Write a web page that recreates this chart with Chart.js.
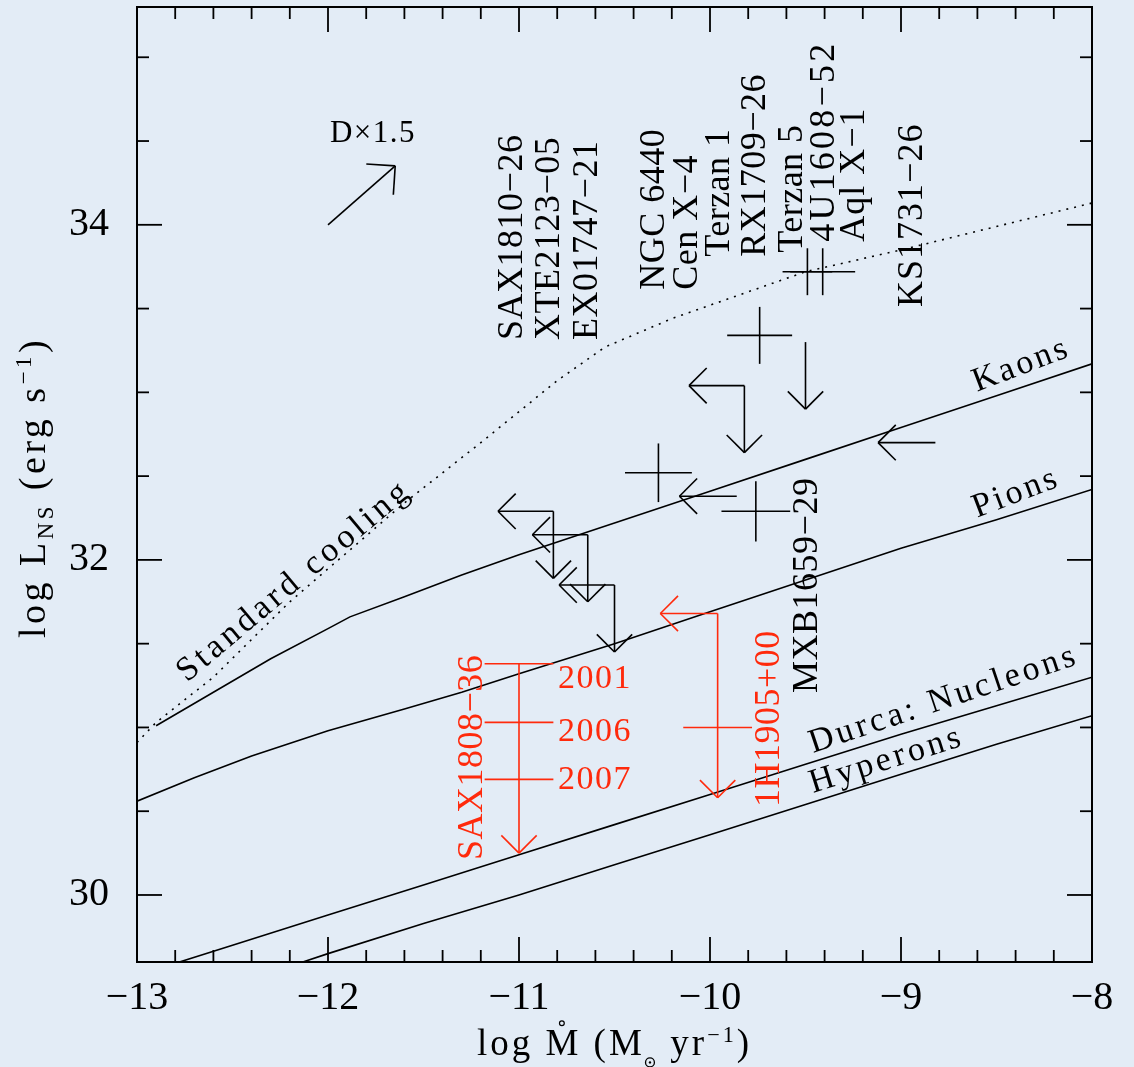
<!DOCTYPE html>
<html>
<head>
<meta charset="utf-8">
<script src="https://cdn.jsdelivr.net/npm/chart.js@4.4.1/dist/chart.umd.min.js"></script>
<style>
  html, body { margin: 0; padding: 0; background: #e3ecf6; }
  #wrap { width: 1134px; height: 1067px; position: relative; }
</style>
</head>
<body>
<div id="wrap"><canvas id="c"></canvas></div>
<script>
const FONT = '"Liberation Serif", "Times New Roman", serif';
const INK = '#000000';
const RED = '#ff2a0c';

// Cooling curves: log Mdot grid and log L for each process
const kaonsMdot = [-12.9, -12.6, -12.3, -12.0, -11.885, -11.6, -11.3, -11.0, -10.5, -10.0, -9.5, -9.0, -8.5, -8.0];
const kaonsL    = [31.01, 31.21, 31.41, 31.59, 31.66, 31.78, 31.91, 32.03, 32.22, 32.41, 32.60, 32.79, 32.98, 33.17];
const pionsMdot = [-13.0, -12.7, -12.4, -12.0, -11.6, -11.3, -11.0, -10.5, -10.0, -9.5, -9.0, -8.5, -8.0];
const pionsL    = [30.56, 30.70, 30.83, 30.98, 31.11, 31.21, 31.32, 31.50, 31.69, 31.88, 32.07, 32.24, 32.42];
const nucleonsMdot = [-13.0, -12.5, -12.0, -11.5, -11.0, -10.5, -10.0, -9.5, -9.0, -8.5, -8.0];
const nucleonsL    = [29.52, 29.70, 29.88, 30.06, 30.24, 30.42, 30.60, 30.78, 30.96, 31.13, 31.30];
const hyperonsMdot = [-12.5, -12.0, -11.5, -11.0, -10.5, -10.0, -9.5, -9.0, -8.5, -8.0];
const hyperonsL    = [29.46, 29.65, 29.83, 30.00, 30.18, 30.36, 30.54, 30.72, 30.90, 31.07];
const standardMdot = [-13.0, -12.9, -12.6, -12.2, -11.6, -11.2, -10.8, -10.55, -10.2, -9.5, -9.0, -8.0];
const standardL    = [30.91, 31.03, 31.30, 31.75, 32.34, 32.70, 33.07, 33.27, 33.44, 33.72, 33.85, 34.13];

// Quiescent sources with measured luminosity: log Mdot, log L and half-ranges
const detMdot    = [-9.74, -10.27, -9.76, -9.49, -9.41];
const detL       = [33.34, 32.52, 32.29, 33.72, 33.72];
const detMdotErr = [0.17, 0.175, 0.18, 0.13, 0.17];
const detLErr    = [0.17, 0.175, 0.18, 0.14, 0.14];

// Upper limits on L only
const limLMdot = [-9.50];
const limLL    = [33.30];
// Upper limits on Mdot only
const limMMdot = [-9.86, -8.82];
const limML    = [32.38, 32.70];
// Upper limits on both
const limBothMdot = [-9.82, -10.82, -10.64, -10.50];
const limBothL    = [33.04, 32.29, 32.15, 31.85];

// SAX J1808.4-3658 epochs
const saxYears   = ['2001', '2006', '2007'];
const saxMdot    = -11.0;
const saxL       = [31.38, 31.03, 30.69];
const saxMdotErr = 0.18;
const saxLLimit  = 30.25;

// 1H 1905+000
const h1905Mdot   = -9.96;
const h1905L      = 31.68;
const h1905LLimit = 30.58;
const h1905BarL   = 31.00;
const h1905BarErr = 0.18;

// Distance-scaling vector (D x 1.5 shifts both quantities by log 2.25)
const distFrom = [-12.0, 34.0];
const distShift = 0.352;

// Axis tick values
const xMajorTicks = [-13, -12, -11, -10, -9, -8];
const yMajorTicks = [30, 32, 34];

// Source names (vertical text)
const sourceNames = ['SAX1810\u221226', 'XTE2123\u221205', 'EX01747\u221221', 'NGC 6440', 'Cen X\u22124',
  'Terzan 1', 'RX1709\u221226', 'Terzan 5', '4U1608\u221252', 'Aql X\u22121', 'KS1731\u221226', 'MXB1659\u221229'];
const redNames = ['SAX1808\u221236', '1H1905+00'];

// Label anchors (column centre x, bottom of text y) in axis units, plus letter spacing
const sourceAnchors = [[-11.047, 33.313], [-10.853, 33.313], [-10.654, 33.313], [-10.304, 33.612], [-10.131, 33.612],
  [-9.963, 33.809], [-9.775, 33.809], [-9.581, 33.833], [-9.414, 33.899], [-9.257, 33.899], [-8.953, 33.51], [-9.503, 31.206]];
const sourceSpacing = [0.5, 0.5, 0.5, 0.5, 0.5, 0.5, 0.5, 0.5, 3.2, 1, 1, 0.5];
const redAnchors = [[-11.257, 30.209], [-9.702, 30.525]];
const yearAnchors = [[-10.796, 31.236], [-10.796, 30.919], [-10.796, 30.633]];

// Curve labels: text, start of baseline, angle in degrees
const curveLabels = [
  { text: 'Kaons', at: [-8.602, 33.003], angle: -21, spacing: 3 },
  { text: 'Pions', at: [-8.602, 32.251], angle: -21, spacing: 3 },
  { text: 'Durca: Nucleons', at: [-9.461, 30.848], angle: -18.5, spacing: 3.5 },
  { text: 'Hyperons', at: [-9.461, 30.609], angle: -17.5, spacing: 3.5 },
  { text: 'Standard cooling', at: [-12.738, 31.266], angle: -40, spacing: 4 }
];

const pts = (xs, ys) => xs.map((x, i) => ({ x, y: ys[i] }));
const curve = (label, xs, ys, dash) => ({
  label, data: pts(xs, ys), showLine: true, borderColor: INK, borderWidth: 1.6,
  borderDash: dash || [], pointRadius: 0, tension: 0, fill: false
});

const minus = v => (v < 0 ? '\u2212' + Math.abs(v) : String(v));

function drawText(ctx, str, x, y, o) {
  ctx.save();
  ctx.translate(x, y);
  ctx.rotate((o.angle || 0) * Math.PI / 180);
  ctx.font = `${o.size}px ${FONT}`;
  ctx.letterSpacing = (o.spacing || 0) + 'px';
  ctx.fillStyle = o.color || INK;
  ctx.textAlign = o.align || 'left';
  ctx.textBaseline = 'alphabetic';
  ctx.fillText(str, 0, o.dy || 0);
  ctx.restore();
}

function line(ctx, x0, y0, x1, y1) {
  ctx.beginPath(); ctx.moveTo(x0, y0); ctx.lineTo(x1, y1); ctx.stroke();
}

function arrow(ctx, x0, y0, x1, y1, head) {
  line(ctx, x0, y0, x1, y1);
  const a = Math.atan2(y1 - y0, x1 - x0);
  for (const s of [-1, 1]) {
    const b = a + Math.PI + s * Math.PI / 4;
    line(ctx, x1, y1, x1 + head * Math.cos(b), y1 + head * Math.sin(b));
  }
}

// Rich text: segments with optional sub/superscript, drawn along +x of current transform
function richText(ctx, segs, size, cx, cy, angle, sp) {
  ctx.save();
  ctx.translate(cx, cy);
  ctx.rotate(angle * Math.PI / 180);
  ctx.fillStyle = INK;
  ctx.strokeStyle = INK;
  ctx.textBaseline = 'alphabetic';
  ctx.textAlign = 'left';
  const widths = segs.map(s => {
    const fs = s.small ? size * 0.6 : size;
    ctx.font = `${fs}px ${FONT}`;
    ctx.letterSpacing = sp + 'px';
    return s.sun ? size * 0.36 : ctx.measureText(s.t).width;
  });
  let x = -widths.reduce((a, b) => a + b, 0) / 2;
  segs.forEach((s, i) => {
    const fs = s.small ? size * 0.6 : size;
    ctx.font = `${fs}px ${FONT}`;
    ctx.letterSpacing = sp + 'px';
    const dy = s.sub ? size * 0.22 : s.sup ? -size * 0.36 : 0;
    if (s.sun) {
      ctx.lineWidth = 1.3;
      ctx.beginPath(); ctx.arc(x + size * 0.14, size * 0.2, size * 0.12, 0, 2 * Math.PI); ctx.stroke();
      ctx.beginPath(); ctx.arc(x + size * 0.14, size * 0.2, 1.2, 0, 2 * Math.PI); ctx.fill();
    } else {
      ctx.fillText(s.t, x, dy);
    }
    if (s.dot) {
      ctx.lineWidth = 1.2;
      const mw = ctx.measureText('M').width - sp;
      ctx.beginPath(); ctx.arc(x + mw / 2, -size * 0.86, 2.4, 0, 2 * Math.PI); ctx.stroke();
    }
    x += widths[i];
  });
  ctx.restore();
}

const decor = {
  id: 'decor',
  beforeDraw(chart) {
    const ctx = chart.ctx;
    ctx.save();
    ctx.fillStyle = '#e3ecf6';
    ctx.fillRect(0, 0, chart.width, chart.height);
    ctx.restore();
  },
  afterDatasetsDraw(chart) {
    const ctx = chart.ctx;
    const xs = chart.scales.x, ys = chart.scales.y;
    const X = v => xs.getPixelForValue(v), Y = v => ys.getPixelForValue(v);
    const area = chart.chartArea;
    const HEAD = 25;
    ctx.save();
    ctx.lineCap = 'butt';
    ctx.lineWidth = 1.6;
    ctx.strokeStyle = INK;

    // detections: crosses
    detMdot.forEach((m, i) => {
      line(ctx, X(m - detMdotErr[i]), Y(detL[i]), X(m + detMdotErr[i]), Y(detL[i]));
      line(ctx, X(m), Y(detL[i] - detLErr[i]), X(m), Y(detL[i] + detLErr[i]));
    });
    // L upper limits
    limLMdot.forEach((m, i) => arrow(ctx, X(m), Y(limLL[i]), X(m), Y(limLL[i] - 0.4), HEAD));
    // Mdot upper limits
    limMMdot.forEach((m, i) => arrow(ctx, X(m), Y(limML[i]), X(m - 0.3), Y(limML[i]), HEAD));
    // both
    limBothMdot.forEach((m, i) => {
      arrow(ctx, X(m), Y(limBothL[i]), X(m - 0.29), Y(limBothL[i]), HEAD);
      arrow(ctx, X(m), Y(limBothL[i]), X(m), Y(limBothL[i] - 0.4), HEAD);
    });
    // distance vector
    arrow(ctx, X(distFrom[0]), Y(distFrom[1]), X(distFrom[0] + distShift), Y(distFrom[1] + distShift), 29);

    // red sources
    ctx.strokeStyle = RED;
    saxL.forEach(l => line(ctx, X(saxMdot - saxMdotErr), Y(l), X(saxMdot + saxMdotErr), Y(l)));
    arrow(ctx, X(saxMdot), Y(saxL[0]), X(saxMdot), Y(saxLLimit), HEAD);
    arrow(ctx, X(h1905Mdot), Y(h1905L), X(h1905Mdot - 0.3), Y(h1905L), HEAD);
    arrow(ctx, X(h1905Mdot), Y(h1905L), X(h1905Mdot), Y(h1905LLimit), HEAD);
    line(ctx, X(h1905Mdot - h1905BarErr), Y(h1905BarL), X(h1905Mdot + h1905BarErr), Y(h1905BarL));
    ctx.restore();

    // curve labels
    curveLabels.forEach(c => drawText(ctx, c.text, X(c.at[0]), Y(c.at[1]),
      { size: 34, angle: c.angle, spacing: c.spacing }));
    // distance label
    drawText(ctx, 'D\u00d71.5', X(-11.99), Y(34.496), { size: 31, spacing: 1.5 });

    // vertical source names
    const cap = 36 * 0.66;
    sourceNames.forEach((n, i) => drawText(ctx, n, X(sourceAnchors[i][0]), Y(sourceAnchors[i][1]),
      { size: 36, angle: -90, dy: cap / 2, spacing: sourceSpacing[i] }));
    redNames.forEach((n, i) => drawText(ctx, n, X(redAnchors[i][0]), Y(redAnchors[i][1]),
      { size: 36, angle: -90, dy: cap / 2, spacing: 0.5, color: RED }));
    saxYears.forEach((t, i) => drawText(ctx, t, X(yearAnchors[i][0]), Y(yearAnchors[i][1]),
      { size: 34, spacing: 1.5, color: RED }));

    // frame and ticks
    ctx.save();
    ctx.strokeStyle = INK;
    ctx.lineWidth = 2;
    ctx.strokeRect(area.left, area.top, area.right - area.left, area.bottom - area.top);
    ctx.lineWidth = 1.8;
    for (let k = 0; k <= 25; k++) {
      const v = -13 + k * 0.2;
      const px = X(v);
      const len = k % 5 === 0 ? 25 : 12;
      line(ctx, px, area.bottom, px, area.bottom - len);
      line(ctx, px, area.top, px, area.top + len);
    }
    for (let v = 30; v <= 35.3; v += 0.5) {
      const py = Y(v);
      const len = yMajorTicks.includes(v) ? 25 : 12;
      line(ctx, area.left, py, area.left + len, py);
      line(ctx, area.right, py, area.right - len, py);
    }
    ctx.restore();

    // axis titles
    richText(ctx, [{ t: 'log L' }, { t: 'NS', small: true, sub: true }, { t: ' (erg s' },
      { t: '\u22121', small: true, sup: true }, { t: ')' }], 38, 45, (area.top + area.bottom) / 2 + 3, -90, 3.5);
    richText(ctx, [{ t: 'log ' }, { t: 'M', dot: true }, { t: ' (M' }, { sun: true, t: '' },
      { t: ' yr' }, { t: '\u22121', small: true, sup: true }, { t: ')' }], 37, (area.left + area.right) / 2, 1055, 0, 3);
  }
};

new Chart(document.getElementById('c'), {
  type: 'scatter',
  data: {
    datasets: [
      curve('Kaons', kaonsMdot, kaonsL),
      curve('Pions', pionsMdot, pionsL),
      curve('Durca: Nucleons', nucleonsMdot, nucleonsL),
      curve('Hyperons', hyperonsMdot, hyperonsL),
      curve('Standard cooling', standardMdot, standardL, [2, 6])
    ]
  },
  options: {
    responsive: true,
    maintainAspectRatio: false,
    animation: false,
    layout: { padding: { top: 7, right: 42, left: 0, bottom: 0 } },
    plugins: { legend: { display: false }, tooltip: { enabled: false } },
    scales: {
      x: {
        type: 'linear', min: -13, max: -8,
        grid: { display: false }, border: { display: false },
        afterBuildTicks: s => { s.ticks = xMajorTicks.map(v => ({ value: v })); },
        ticks: { callback: v => minus(v), color: INK, padding: 4, maxRotation: 0,
          font: { family: FONT, size: 40 } },
        afterFit: s => { s.height = 105; s.paddingLeft = 0; s.paddingRight = 0; }
      },
      y: {
        type: 'linear', min: 29.6, max: 35.3,
        grid: { display: false }, border: { display: false },
        afterBuildTicks: s => { s.ticks = yMajorTicks.map(v => ({ value: v })); },
        ticks: { callback: v => minus(v), color: INK, padding: 20,
          font: { family: FONT, size: 40 } },
        afterFit: s => { s.width = 137; s.paddingTop = 0; s.paddingBottom = 0; }
      }
    }
  },
  plugins: [decor]
});
</script>
</body>
</html>
